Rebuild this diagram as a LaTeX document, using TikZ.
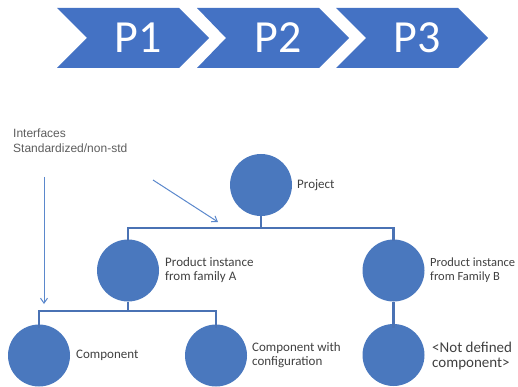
\documentclass[tikz,border=0pt]{standalone}
\usepackage{fontspec}
\setmainfont{Carlito}
\newfontfamily\arialfont{Liberation Sans}
\usetikzlibrary{arrows.meta}
\definecolor{chev}{HTML}{4472C4}
\definecolor{circ}{HTML}{4A78BE}
\definecolor{tree}{HTML}{4A72B4}
\definecolor{arr}{HTML}{5B88CC}
\definecolor{lab}{HTML}{404040}
\tikzset{
  chevron/.style={fill=chev, draw=none},
  ptext/.style={text=white, font=\fontsize{46}{46}\selectfont, inner sep=0},
  ball/.style={circle, fill=circ, draw=none, minimum size=62pt, inner sep=0},
  lbl/.style={text=lab, font=\fontsize{13}{14}\selectfont, align=left, anchor=west, inner sep=0},
  biglbl/.style={text=lab, font=\fontsize{15}{15}\selectfont, align=left, anchor=west, inner sep=0},
  conn/.style={draw=tree, line width=2.4pt},
  pointer/.style={draw=arr, line width=1pt, -{Straight Barb[length=5pt,width=7pt]}},
}
\begin{document}
\begin{tikzpicture}[x=1pt, y=-1pt]
\useasboundingbox (0,0) rectangle (518,387);
% chevrons
\fill[chevron] (57,8) -- (179,8) -- (209,38) -- (179,68) -- (57,68) -- (87,38) -- cycle;
\fill[chevron] (197,8) -- (319,8) -- (349,38) -- (319,68) -- (197,68) -- (226,38) -- cycle;
\fill[chevron] (336,8) -- (458,8) -- (488,38) -- (458,68) -- (336,68) -- (366,38) -- cycle;
\node[ptext] (p1) at (138,38) {P1};
\node[ptext] (p2) at (278,38) {P2};
\node[ptext] (p3) at (417,38) {P3};
% circles
\node[ball] (proj) at (261,185) {};
\node[ball] (a) at (128,270.5) {};
\node[ball] (b) at (393.5,270.5) {};
\node[ball] (c1) at (39,355.5) {};
\node[ball] (c2) at (216,355.5) {};
\node[ball] (c3) at (393.5,355) {};
% labels
\node[lbl] (lproj) at (297,185) {Project};
\node[lbl] (la) at (165,270) {Product instance\\from family A};
\node[lbl, font=\fontsize{12.5}{14}\selectfont] (lb) at (430,270) {Product instance\\from Family B};
\node[lbl] (lc1) at (76,355) {Component};
\node[lbl] (lc2) at (252,355) {Component with\\configuration};
\node[biglbl] (lc3) at (432,355.5) {<Not defined\\component>};
\node[text=lab!85, font=\arialfont\fontsize{12}{15}\selectfont, align=left, anchor=west, inner sep=0] (intf) at (13,140.5) {Interfaces\\Standardized/non-std};
% tree connectors
\draw[conn] (proj.south) -- ++(0,12) coordinate (j1) -| ([yshift=-2pt]b.north);
\draw[conn] (j1) -| ([yshift=-2pt]a.north);
\draw[conn] (a.south) -- ++(0,9) coordinate (j2) -| ([yshift=-4pt]c2.north);
\draw[conn] (j2) -| ([yshift=-4pt]c1.north);
\draw[conn] (b.south) -- ([yshift=-4pt]c3.north);
% pointer arrows
\coordinate (s1) at (44,177);
\coordinate (e1) at (44,304);
\coordinate (s2) at (153,180);
\coordinate (e2) at (218,222);
\draw[pointer] (s1) -- (e1);
\draw[pointer] (s2) -- (e2);
\end{tikzpicture}
\end{document}
